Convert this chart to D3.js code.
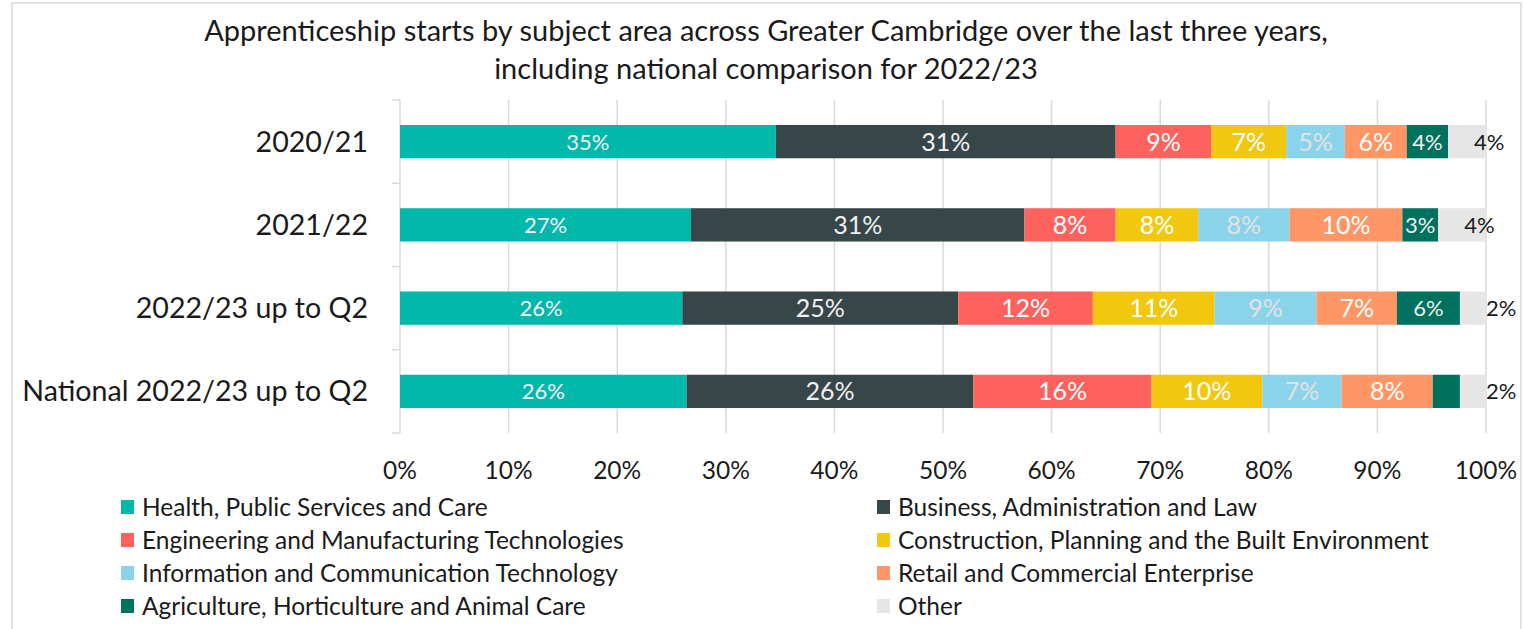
<!DOCTYPE html>
<html>
<head>
<meta charset="utf-8">
<script src="https://cdn.jsdelivr.net/npm/d3@7"></script>
<style>
  body { margin: 0; background: #fff; }
  svg text { font-family: Lato, sans-serif; }
</style>
</head>
<body>
<div id="chart"></div>
<script>
// Categories (rows) and subject areas (stacked segments)
const categories = ['2020/21', '2021/22', '2022/23 up to Q2', 'National 2022/23 up to Q2'];
const subjects = [
  'Health, Public Services and Care',
  'Business, Administration and Law',
  'Engineering and Manufacturing Technologies',
  'Construction, Planning and the Built Environment',
  'Information and Communication Technology',
  'Retail and Commercial Enterprise',
  'Agriculture, Horticulture and Animal Care',
  'Other'
];
const colours = ['#01B8AA', '#374649', '#FD625E', '#F2C80F', '#8AD4EB', '#FE9666', '#00705F', '#E6E6E6'];

// percentage share per row
const health       = [34.6, 26.8, 26.0, 26.4];
const business     = [31.3, 30.7, 25.4, 26.4];
const engineering  = [8.8, 8.4, 12.4, 16.4];
const construction = [6.9, 7.6, 11.2, 10.2];
const ict          = [5.4, 8.4, 9.4, 7.3];
const retail       = [5.7, 10.4, 7.4, 8.4];
const agriculture  = [3.8, 3.3, 5.8, 2.5];
const other        = [3.5, 4.4, 2.4, 2.4];

const series = [health, business, engineering, construction, ict, retail, agriculture, other];
const xTicks = [0, 10, 20, 30, 40, 50, 60, 70, 80, 90, 100];

const W = 1524, H = 629;
const margin = { top: 100, right: 38, bottom: 196, left: 400 };

const svg = d3.select('#chart').append('svg')
  .attr('width', W)
  .attr('height', H);

// outer chart frame
svg.append('rect')
  .attr('x', 12).attr('y', 3)
  .attr('width', 1509).attr('height', 660)
  .attr('fill', 'none')
  .attr('stroke', '#d9d9d9')
  .attr('stroke-width', 1.5);

// Title
const title = svg.append('text')
  .attr('text-anchor', 'middle')
  .attr('font-size', 29)
  .attr('fill', '#1a1a1a');
title.append('tspan').attr('x', 766).attr('y', 41)
  .text('Apprenticeship starts by subject area across Greater Cambridge over the last three years,');
title.append('tspan').attr('x', 766).attr('y', 79)
  .text('including national comparison for 2022/23');

const x = d3.scaleLinear()
  .domain([0, 100])
  .range([margin.left, W - margin.right]);

const y = d3.scaleBand()
  .domain(categories)
  .range([margin.top, H - margin.bottom])
  .paddingInner(0.6)
  .paddingOuter(0.3);

// vertical gridlines
svg.append('g')
  .selectAll('line')
  .data(xTicks.slice(1))
  .enter()
  .append('line')
  .attr('x1', d => x(d)).attr('x2', d => x(d))
  .attr('y1', margin.top).attr('y2', H - margin.bottom)
  .attr('stroke', '#d9d9d9')
  .attr('stroke-width', 1.5);

// y axis line with category separator ticks
svg.append('line')
  .attr('x1', x(0)).attr('x2', x(0))
  .attr('y1', margin.top).attr('y2', H - margin.bottom)
  .attr('stroke', '#d9d9d9').attr('stroke-width', 1.5);

const step = y.step();
const bounds = d3.range(categories.length + 1).map(i => margin.top + i * step);
svg.append('g')
  .selectAll('line')
  .data(bounds)
  .enter()
  .append('line')
  .attr('x1', x(0) - 8).attr('x2', x(0))
  .attr('y1', d => d).attr('y2', d => d)
  .attr('stroke', '#d9d9d9').attr('stroke-width', 1.5);

// category labels
svg.append('g')
  .selectAll('text')
  .data(categories)
  .enter()
  .append('text')
  .attr('x', 368)
  .attr('y', d => y(d) + y.bandwidth() / 2)
  .attr('dy', '0.35em')
  .attr('text-anchor', 'end')
  .attr('font-size', 28.6)
  .attr('fill', '#1a1a1a')
  .text(d => d);

// x tick labels
svg.append('g')
  .selectAll('text')
  .data(xTicks)
  .enter()
  .append('text')
  .attr('x', d => x(d))
  .attr('y', 479)
  .attr('text-anchor', 'middle')
  .attr('font-size', 24.5)
  .attr('fill', '#1a1a1a')
  .text(d => d + '%');

// stack the data
const rows = categories.map((c, i) => {
  const r = { cat: c };
  subjects.forEach((s, j) => { r[s] = series[j][i]; });
  return r;
});
const stacked = d3.stack().keys(subjects)(rows);

const layers = svg.append('g')
  .selectAll('g')
  .data(stacked)
  .enter()
  .append('g')
  .attr('fill', (d, i) => colours[i]);

layers.selectAll('rect')
  .data(d => d)
  .enter()
  .append('rect')
  .attr('x', d => x(d[0]))
  .attr('y', d => y(d.data.cat))
  .attr('width', d => x(d[1]) - x(d[0]))
  .attr('height', y.bandwidth());

// labels: colour and size differ by series like in the original
const labelColour = ['#f4f4f4', '#f0f0f0', '#ffffff', '#ffffff', '#e2e2e2', '#ffffff', '#f0f0f0', '#1a1a1a'];
const labelSize = [22, 25, 25, 25, 25, 25, 22, 22];

stacked.forEach((layer, i) => {
  const isOther = subjects[i] === 'Other';
  svg.append('g')
    .selectAll('text')
    .data(layer.filter(d => isOther || (d[1] - d[0]) >= 3))
    .enter()
    .append('text')
    .attr('x', d => isOther ? x(d[0]) + 26 : (x(d[0]) + x(d[1])) / 2)
    .attr('y', d => y(d.data.cat) + y.bandwidth() / 2)
    .attr('dy', '0.36em')
    .attr('text-anchor', isOther ? 'start' : 'middle')
    .attr('font-size', labelSize[i])
    .attr('fill', labelColour[i])
    .text(d => Math.round(d[1] - d[0]) + '%');
});

// legend, two columns
const legendCols = [121, 877];
const legendRows = [507, 540, 573, 606];
const legend = svg.append('g')
  .selectAll('g')
  .data(subjects)
  .enter()
  .append('g')
  .attr('transform', (d, i) => 'translate(' + legendCols[i % 2] + ',' + legendRows[Math.floor(i / 2)] + ')');

legend.append('rect')
  .attr('x', 0).attr('y', -7)
  .attr('width', 13).attr('height', 14)
  .attr('fill', (d, i) => colours[i]);

legend.append('text')
  .attr('x', 21)
  .attr('y', 0)
  .attr('dy', '0.35em')
  .attr('font-size', 24.5)
  .attr('fill', '#1a1a1a')
  .text(d => d);
</script>
</body>
</html>
